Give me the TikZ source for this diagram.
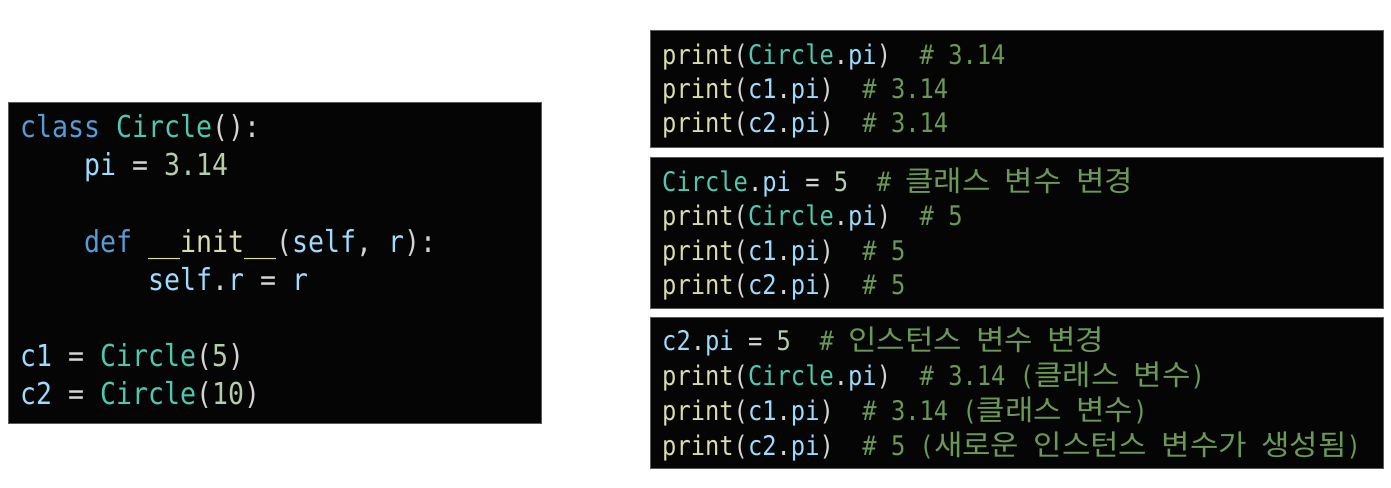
\documentclass[tikz,border=0pt]{standalone}
\usepackage{fontspec}
\usepackage{xcolor}
\usepackage{tikz}
\setmonofont[FakeStretch=0.88]{DejaVu Sans Mono}
\newfontfamily\krfont[Scale=1.06,FakeStretch=1.08]{Noto Sans CJK KR}

\definecolor{codebg}{HTML}{050505}
\definecolor{codeframe}{HTML}{5A5A5A}
\definecolor{punct}{HTML}{D4D4D4}
\definecolor{kwblue}{HTML}{569CD6}
\definecolor{clsteal}{HTML}{4EC9B0}
\definecolor{varblue}{HTML}{9CDCFE}
\definecolor{fnyellow}{HTML}{DCDCAA}
\definecolor{numgreen}{HTML}{B5CEA8}
\definecolor{cmtgreen}{HTML}{6A9955}

\newcommand{\kw}[1]{\textcolor{kwblue}{#1}}
\newcommand{\cls}[1]{\textcolor{clsteal}{#1}}
\newcommand{\vn}[1]{\textcolor{varblue}{#1}}
\newcommand{\fnc}[1]{\textcolor{fnyellow}{#1}}
\newcommand{\nm}[1]{\textcolor{numgreen}{#1}}
\newcommand{\cmt}[1]{\textcolor{cmtgreen}{#1}}
\newcommand{\kr}[1]{{\krfont #1}}
\newcommand{\lcode}{\ttfamily\fontsize{30.2}{38}\selectfont}
\newcommand{\rcode}{\ttfamily\fontsize{27}{34}\selectfont}

\tikzset{
  codebox/.style={fill=codebg, draw=codeframe, line width=1pt},
  lline/.style={anchor=base west, inner sep=0pt, text=punct, font=\lcode},
  rline/.style={anchor=base west, inner sep=0pt, text=punct, font=\rcode}
}

\begin{document}
\begin{tikzpicture}[x=1pt,y=-1pt]
    \useasboundingbox[fill=white] (0,0) rectangle (1391,487);

    % class definition
    \draw[codebox] (8,102) rectangle (541,423);
    \node[lline] (l1) at (20,137.5) {\kw{class} \cls{Circle}():};
    \node[lline] (l2) at (84,175.7) {\vn{pi} = \nm{3.14}};
    \node[lline] (l3) at (84,252.1) {\kw{def} \fnc{\_\_init\_\_}(\vn{self}, \vn{r}):};
    \node[lline] (l4) at (148,290.3) {\vn{self}.\vn{r} = \vn{r}};
    \node[lline] (l5) at (20,366.7) {\vn{c1} = \cls{Circle}(\nm{5})};
    \node[lline] (l6) at (20,404.9) {\vn{c2} = \cls{Circle}(\nm{10})};

    % reading the class variable
    \draw[codebox] (650,31) rectangle (1383,147);
    \node[rline] (a1) at (662,64) {\fnc{print}(\cls{Circle}.\vn{pi})\ \ \cmt{\# 3.14}};
    \node[rline] (a2) at (662,98) {\fnc{print}(\vn{c1}.\vn{pi})\ \ \cmt{\# 3.14}};
    \node[rline] (a3) at (662,132) {\fnc{print}(\vn{c2}.\vn{pi})\ \ \cmt{\# 3.14}};

    % changing the class variable
    \draw[codebox] (650,157) rectangle (1383,308);
    \node[rline] (b1) at (662,191) {\cls{Circle}.\vn{pi} = \nm{5}\ \ \cmt{\# \kr{클래스} \kr{변수} \kr{변경}}};
    \node[rline] (b2) at (662,225.5) {\fnc{print}(\cls{Circle}.\vn{pi})\ \ \cmt{\# 5}};
    \node[rline] (b3) at (662,260) {\fnc{print}(\vn{c1}.\vn{pi})\ \ \cmt{\# 5}};
    \node[rline] (b4) at (662,294.5) {\fnc{print}(\vn{c2}.\vn{pi})\ \ \cmt{\# 5}};

    % changing through the instance
    \draw[codebox] (650,317) rectangle (1383,468);
    \node[rline] (c1) at (662,350) {\vn{c2}.\vn{pi} = \nm{5}\ \ \cmt{\# \kr{인스턴스} \kr{변수} \kr{변경}}};
    \node[rline] (c2) at (662,385) {\fnc{print}(\cls{Circle}.\vn{pi})\ \ \cmt{\# 3.14 (\kr{클래스} \kr{변수})}};
    \node[rline] (c3) at (662,420) {\fnc{print}(\vn{c1}.\vn{pi})\ \ \cmt{\# 3.14 (\kr{클래스} \kr{변수})}};
    \node[rline] (c4) at (662,455) {\fnc{print}(\vn{c2}.\vn{pi})\ \ \cmt{\# 5 (\kr{새로운} \kr{인스턴스} \kr{변수가} \kr{생성됨})}};
\end{tikzpicture}
\end{document}
